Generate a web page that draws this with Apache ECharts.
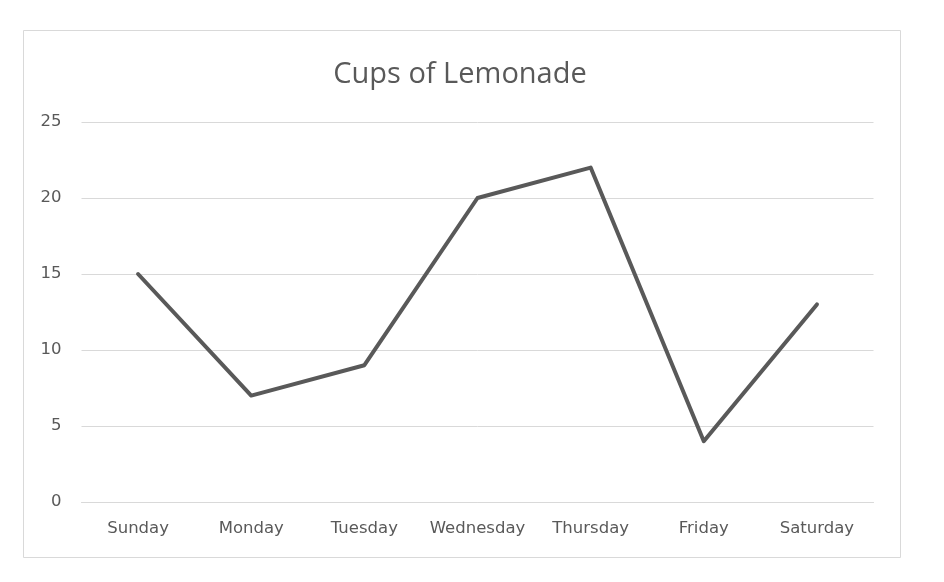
<html style="height: 100%">
<head>
	<meta charset="utf-8">
	<script type="text/javascript" src="https://cdn.jsdelivr.net/npm/echarts@6/dist/echarts.min.js"></script>
</head>

<body style="height: 100%; margin: 0; background: #fff">
	<div id="container" style="height:582px;width:944px"></div>
</body>

<script type="text/javascript">
	var dom = document.getElementById("container");
	var myChart = echarts.init(dom);

	// days of the week
	let days = ['Sunday', 'Monday', 'Tuesday', 'Wednesday', 'Thursday', 'Friday', 'Saturday'];
	// cups sold
	let cups = [15, 7, 9, 20, 22, 4, 13];

	let textColor = '#595959';
	let titleFont = '"Open Sans", "DejaVu Sans", sans-serif';
	let labelFont = '"DejaVu Sans", sans-serif';

	var option = {
		animation: false,
		backgroundColor: '#fff',
		graphic: [
			{
				// outer chart frame
				type: 'rect',
				shape: { x: 23.5, y: 30.5, width: 877, height: 527 },
				style: { fill: 'none', stroke: '#d9d9d9', lineWidth: 1 },
				silent: true
			}
		],
		title: {
			text: 'Cups of Lemonade',
			left: 455,
			textAlign: 'center',
			top: 55,
			textStyle: {
				color: textColor,
				fontFamily: titleFont,
				fontSize: 29,
				fontWeight: 'normal'
			}
		},
		grid: {
			left: 81.5,
			right: 70.5,
			top: 122,
			bottom: 80,
			containLabel: false
		},
		xAxis: {
			type: 'category',
			data: days,
			boundaryGap: true,
			axisLine: { show: true, lineStyle: { color: '#d9d9d9', width: 1 } },
			axisTick: { show: false },
			axisLabel: {
				interval: 0,
				color: textColor,
				fontFamily: labelFont,
				fontSize: 16.5,
				margin: 18
			}
		},
		yAxis: {
			type: 'value',
			min: 0,
			max: 25,
			interval: 5,
			axisLine: { show: false },
			axisTick: { show: false },
			splitLine: { lineStyle: { color: '#d9d9d9', width: 1 } },
			axisLabel: {
				color: textColor,
				fontFamily: labelFont,
				fontSize: 16.5,
				margin: 20
			}
		},
		series: [
			{
				name: 'Cups',
				type: 'line',
				data: cups,
				symbol: 'none',
				lineStyle: { color: textColor, width: 4, cap: 'round', join: 'round' }
			}
		]
	};

	myChart.setOption(option);
</script>

</html>
